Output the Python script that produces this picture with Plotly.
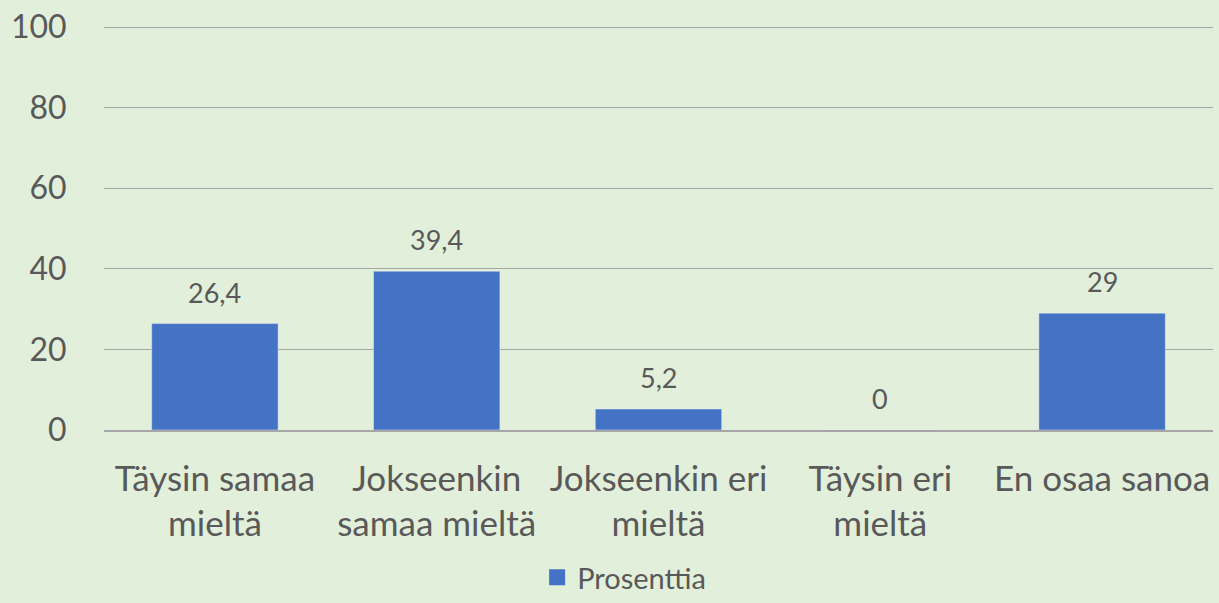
import plotly.graph_objects as go

categories = ["Täysin samaa<br>mieltä", "Jokseenkin<br>samaa mieltä", "Jokseenkin eri<br>mieltä", "Täysin eri<br>mieltä", "En osaa sanoa"]
values = [26.4, 39.4, 5.2, 0, 29]
series_name = "Prosenttia"
y_ticks = [0, 20, 40, 60, 80, 100]

labels = [("%g" % v).replace(".", ",") for v in values]
BAR = "#4472C4"
TXT = "#595959"
FONT = "Lato, Carlito, Open Sans, sans-serif"

fig = go.Figure()
fig.add_trace(go.Bar(
    x=categories, y=values, name=series_name,
    marker_color=BAR, showlegend=False, hoverinfo="skip",
))
# legend entry with a larger square swatch
fig.add_trace(go.Scatter(
    x=[None], y=[None], mode="markers", name=series_name,
    marker=dict(symbol="square", size=20, color=BAR),
))
for c, v, t in zip(categories, values, labels):
    fig.add_annotation(x=c, y=v, text=t, showarrow=False, yanchor="bottom",
                       yshift=13, font=dict(size=27, color=TXT, family=FONT))

fig.update_layout(
    width=1219, height=603,
    paper_bgcolor="#E2EFDA", plot_bgcolor="#E2EFDA",
    margin=dict(l=104, r=6, t=23, b=173),
    font=dict(family=FONT, color=TXT),
    bargap=0.43,
    showlegend=True,
    legend=dict(orientation="h", xref="container", yref="container", x=0.512, xanchor="center",
                y=0.0, yanchor="bottom", font=dict(size=29, color=TXT),
                itemwidth=30, bgcolor="rgba(0,0,0,0)", tracegroupgap=0),
    xaxis=dict(tickfont=dict(size=35, color=TXT), showline=True, linecolor="#A6A6A6",
               linewidth=1.5, ticks="outside", ticklen=17, tickcolor="rgba(0,0,0,0)", showgrid=False),
    yaxis=dict(range=[0, 101], tickvals=y_ticks, tickfont=dict(size=32, color=TXT),
               showgrid=True, gridcolor="#A6A6A6", gridwidth=1, zeroline=False,
               showline=False, ticks="outside", ticklen=30, tickcolor="rgba(0,0,0,0)"),
)

fig.write_html("out.html", post_script="document.body.style.margin='0';",
               config={"displayModeBar": False})
